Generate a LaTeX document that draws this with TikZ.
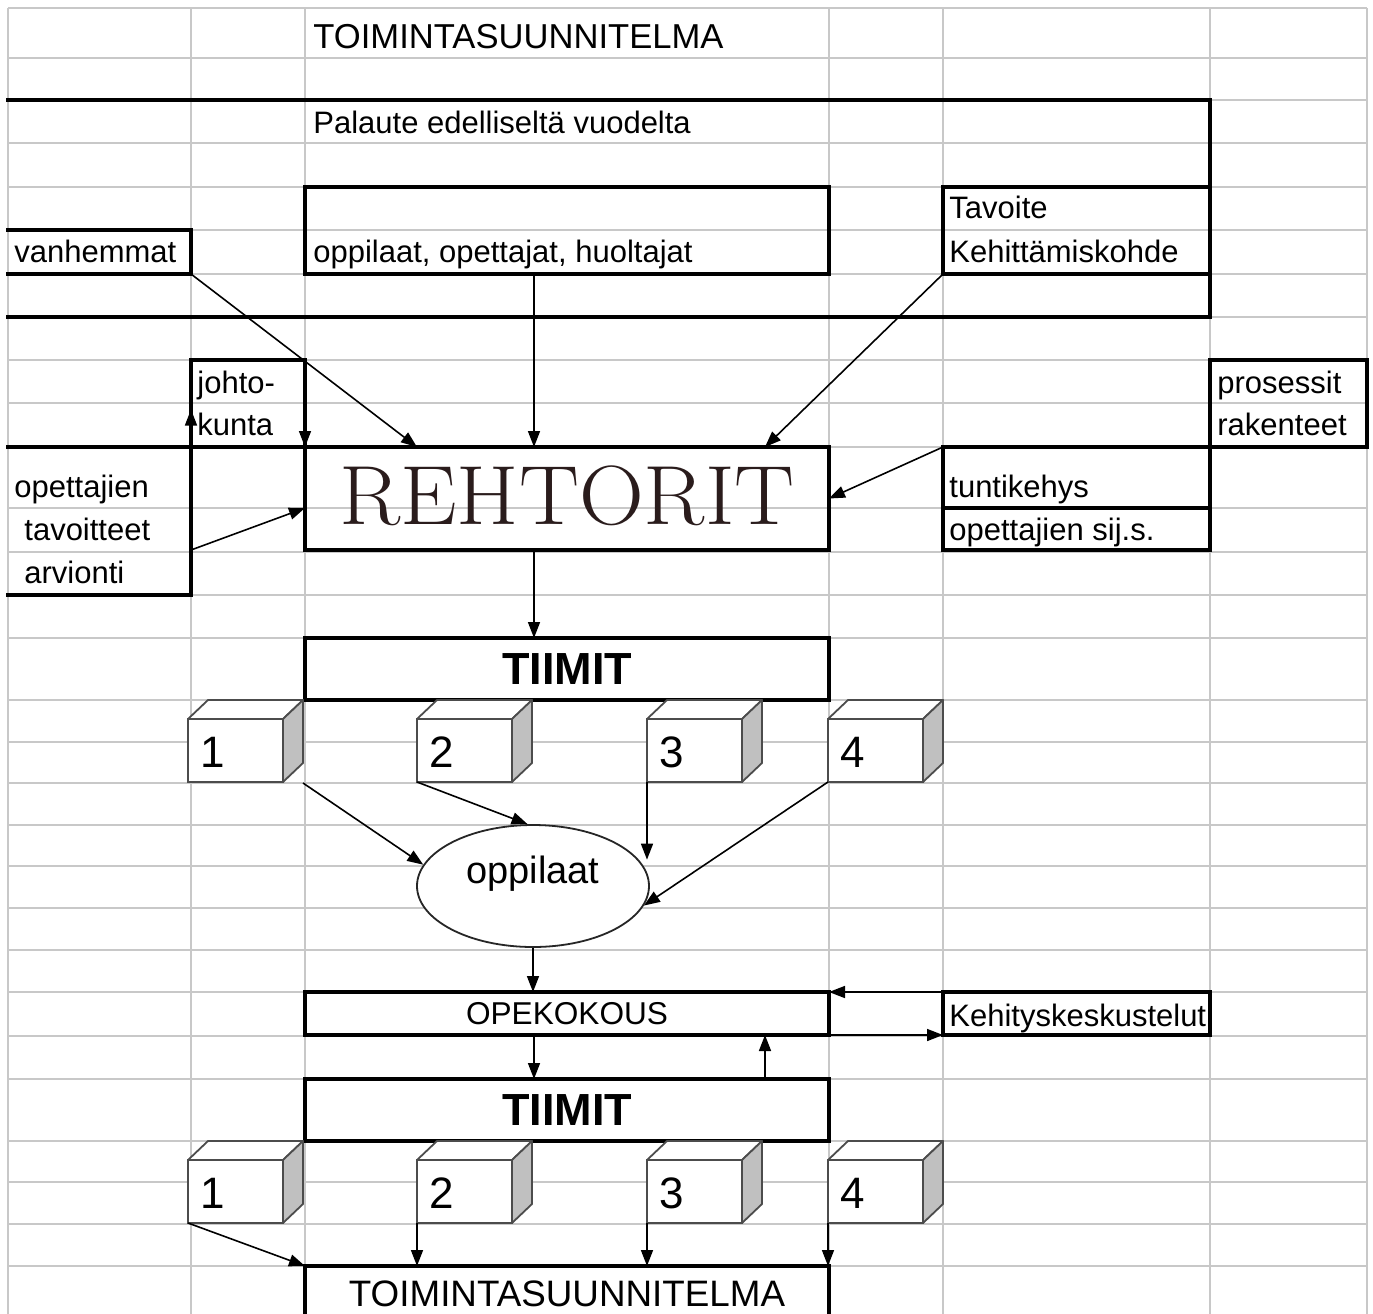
\documentclass[tikz,border=0pt]{standalone}
\usepackage{fontspec}
\setsansfont{Liberation Sans}
\usetikzlibrary{shapes}
\usetikzlibrary{arrows.meta}
\usetikzlibrary{calc,positioning}

\definecolor{gridgray}{RGB}{200,200,200}
\definecolor{cubegray}{RGB}{192,192,192}
\definecolor{rehbrown}{RGB}{42,28,28}

\begin{document}
\begin{tikzpicture}[x=0.5pt,y=-0.5pt]
	\tikzstyle{cell}=[draw, line width=1.8pt, inner sep=0pt, outer sep=0pt, anchor=north west]
	\tikzstyle{opencell}=[inner sep=0pt, outer sep=0pt, anchor=north west]
	\tikzstyle{thickline}=[line width=1.8pt, line cap=rect]
	\tikzstyle{txt}=[font=\sffamily\fontsize{15.5}{15.5}\selectfont, inner sep=0pt, anchor=base west]
	\tikzstyle{big}=[font=\sffamily\bfseries\fontsize{22.5}{22.5}\selectfont, inner sep=0pt]
	\tikzstyle{cubefront}=[draw=black!70, fill=white, line width=0.9pt, minimum width=47.5pt, minimum height=31.5pt, inner sep=0pt, outer sep=0pt, anchor=north west]
	\tikzstyle{cubeface}=[draw=black!70, line width=0.9pt, line join=round]
	\tikzstyle{num}=[font=\sffamily\fontsize{22}{22}\selectfont, inner sep=0pt, anchor=base west]
	\tikzstyle{arr}=[-{Triangle[length=8pt,width=6pt]}, line width=0.8pt]

	\useasboundingbox (0,0) rectangle (1373,1314);
	\clip (0,0) rectangle (1373,1314);
	\fill[white] (0,0) rectangle (1373,1314);
	% spreadsheet grid
	\foreach \gx in {8,191,305,829,943,1210,1367}
		\draw[gridgray, line width=0.75pt] (\gx,8) -- (\gx,1314);
	\foreach \gy in {8,58,100,143,187,230,274,317,360,403,447,508,552,595,638,700,742,783,825,866,908,950,992,1036,1079,1141,1182,1224,1266}
		\draw[gridgray, line width=0.75pt] (8,\gy) -- (1367,\gy);

	\node[txt, font=\sffamily\fontsize{17.3}{17.3}\selectfont] (title) at (313,48) {TOIMINTASUUNNITELMA};

	% palaute
	\node[opencell, minimum width=601pt, minimum height=108.5pt] (pal) at (8,100) {};
	\draw[thickline] (pal.north west) -- (pal.north east) -- (pal.south east) -- (pal.south west);
	\node[txt] (paltxt) at (313,133) {Palaute edelliseltä vuodelta};
	\node[cell, minimum width=262pt, minimum height=43.5pt] (opp) at (305,187) {};
	\node[txt] (opptxt) at (313,262) {oppilaat, opettajat, huoltajat};
	\node[opencell, minimum width=91.5pt, minimum height=22pt] (van) at (8,230) {};
	\draw[thickline] (van.north west) -- (van.north east) -- (van.south east) -- (van.south west);
	\node[txt] (vantxt) at (14,262) {vanhemmat};
	\node[cell, minimum width=133.5pt, minimum height=43.5pt] (tav) at (943,187) {};
	\node[txt] (tavtxt) at (949,218) {Tavoite};
	\node[txt] (kehtxt) at (949,262) {Kehittämiskohde};

	% rehtorit and the cells round it
	\node[cell, minimum width=57pt, minimum height=43.5pt] (joh) at (191,360) {};
	\node[txt] (johtxt) at (197,393) {johto-};
	\node[txt] (kuntxt) at (197,435) {kunta};
	\node[opencell, minimum width=91.5pt, minimum height=74pt] (ope) at (8,447) {};
	\draw[thickline] (ope.north west) -- (ope.north east) -- (ope.south east) -- (ope.south west);
	\node[txt] (opetxt) at (14,497) {opettajien};
	\node[txt] (tvotxt) at (24,540) {tavoitteet};
	\node[txt] (arvtxt) at (24,583) {arvionti};
	\node[cell, minimum width=262pt, minimum height=51.5pt] (reh) at (305,447) {};
	\node[font=\rmfamily\fontsize{42}{42}\selectfont, text=rehbrown, inner sep=0pt] (rehtxt) at ([yshift=1.5pt]reh.center) {\scalebox{1.07}[1]{REHTORIT}};
	\node[cell, minimum width=78.5pt, minimum height=43.5pt] (pro) at (1210,360) {};
	\node[txt] (protxt) at (1217,393) {prosessit};
	\node[txt] (raktxt) at (1217,435) {rakenteet};
	\node[cell, minimum width=133.5pt, minimum height=30.5pt] (tun) at (943,447) {};
	\node[txt] (tuntxt) at (949,497) {tuntikehys};
	\node[cell, minimum width=133.5pt, minimum height=21pt] (sij) at (943,508) {};
	\node[txt] (sijtxt) at (949,540) {opettajien sij.s.};

	\draw[arr] (van.south east) -- ([xshift=56pt]reh.north west);
	\draw[arr] ([xshift=114.5pt]opp.south west) -- ([xshift=114.5pt]reh.north west);
	\draw[arr] (tav.south west) -- ([xshift=-32pt]reh.north east);
	\draw[arr] (joh.north east) -- (reh.north west);
	\draw[arr] (ope.north east) -- ([yshift=-3pt]joh.west);
	\draw[arr] (ope.east |- reh.south) -- (reh.west |- sij.north);
	\draw[arr] (tun.north west) -- (reh.east);

	% tiimit
	\node[cell, minimum width=262pt, minimum height=31pt] (tim) at (305,638) {};
	\node[big] (timtxt) at (tim.center) {TIIMIT};
	\draw[arr] ([xshift=114.5pt]reh.south west) -- ([xshift=114.5pt]tim.north west);
	\foreach \n/\cx in {1/188,2/417,3/647,4/828}{
		\node[cubefront] (ca\n) at (\cx,719) {};
		\filldraw[cubeface, fill=white] (ca\n.north west) -- ++(10pt,9.5pt) -- ++(47.5pt,0) -- (ca\n.north east) -- cycle;
		\filldraw[cubeface, fill=cubegray] (ca\n.north east) -- ++(10pt,9.5pt) -- ++(0,-31.5pt) -- (ca\n.south east) -- cycle;
		\node[num] (na\n) at ([xshift=6pt,yshift=7.5pt]ca\n.south west) {\n};
	}

	\node[ellipse, draw=black!85, fill=white, line width=0.9pt, minimum width=116pt, minimum height=61pt, inner sep=0pt] (opl) at (533,886) {};
	\node[txt, anchor=base, font=\sffamily\fontsize{19}{19}\selectfont] (opltxt) at ([yshift=1.5pt]opl.center) {oppilaat};
	\draw[arr] ([xshift=10pt,yshift=-0.5pt]ca1.south east) -- (opl.169);
	\draw[arr] (ca2.south west) -- (opl.95);
	\draw[arr] (ca3.south west) -- (ca3.south west |- opl.14);
	\draw[arr] (ca4.south west) -- (opl.-10);

	% opekokous
	\node[cell, minimum width=262pt, minimum height=21.5pt] (opek) at (305,992) {};
	\node[txt, anchor=center, font=\sffamily\fontsize{15.8}{15.8}\selectfont] (opektxt) at (opek.center) {OPEKOKOUS};
	\node[cell, minimum width=133.5pt, minimum height=21.5pt] (keh) at (943,992) {};
	\node[txt] (kehktxt) at (949,1026) {Kehityskeskustelut};
	\draw[arr] (opl.south) -- (opl.south |- opek.north);
	\draw[arr] (keh.north west) -- (opek.north east);
	\draw[arr] (opek.south east) -- (keh.south west);

	\node[cell, minimum width=262pt, minimum height=31pt] (tim2) at (305,1079) {};
	\node[big] (tim2txt) at (tim2.center) {TIIMIT};
	\draw[arr] ([xshift=114.5pt]opek.south west) -- ([xshift=114.5pt]tim2.north west);
	\draw[arr] ([xshift=-32pt]tim2.north east) -- ([xshift=-32pt]opek.south east);
	\foreach \n/\cx in {1/188,2/417,3/647,4/828}{
		\node[cubefront] (cb\n) at (\cx,1160) {};
		\filldraw[cubeface, fill=white] (cb\n.north west) -- ++(10pt,9.5pt) -- ++(47.5pt,0) -- (cb\n.north east) -- cycle;
		\filldraw[cubeface, fill=cubegray] (cb\n.north east) -- ++(10pt,9.5pt) -- ++(0,-31.5pt) -- (cb\n.south east) -- cycle;
		\node[num] (nb\n) at ([xshift=6pt,yshift=7.5pt]cb\n.south west) {\n};
	}

	% toimintasuunnitelma
	\node[cell, minimum width=262pt, minimum height=32pt] (toim) at (305,1266) {};
	\node[txt, anchor=center, font=\sffamily\fontsize{18.4}{18.4}\selectfont] (toimtxt) at (567,1294) {TOIMINTASUUNNITELMA};
	\draw[arr] (cb1.south west) -- (toim.north west);
	\draw[arr] (cb2.south west) -- (cb2.south west |- toim.north);
	\draw[arr] (cb3.south west) -- (cb3.south west |- toim.north);
	\draw[arr] (cb4.south west) -- (cb4.south west |- toim.north);
\end{tikzpicture}
\end{document}
